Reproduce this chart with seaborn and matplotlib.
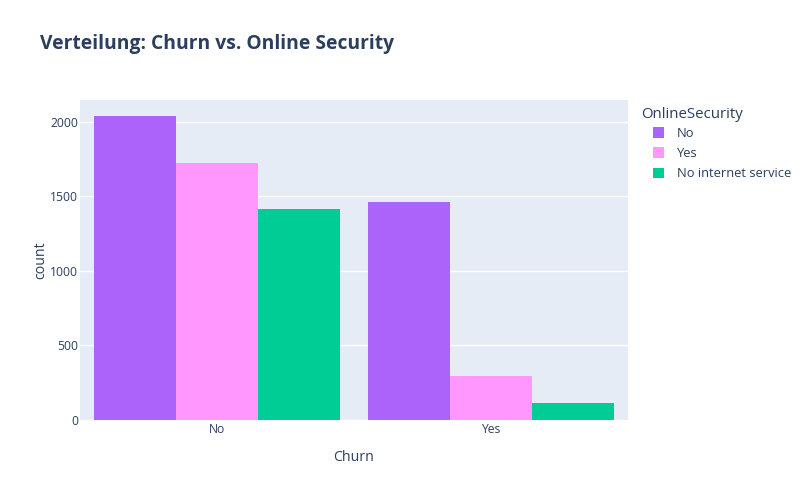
import pandas as pd
import seaborn as sns
import matplotlib.pyplot as plt
from matplotlib.patches import Patch

churn = ["No", "No", "No", "Yes", "Yes", "Yes"]
security = ["No", "Yes", "No internet service", "No", "Yes", "No internet service"]
counts = [2037, 1724, 1413, 1461, 295, 113]
hue_levels = ["No", "Yes", "No internet service"]
colors = ["#AB63FA", "#FF97FF", "#00CC96"]

df = pd.DataFrame({"Churn": churn, "OnlineSecurity": security, "count": counts})

text_col = "#2a3f5f"
sns.set_style("white")
plt.rcParams["font.family"] = ["Open Sans", "DejaVu Sans"]

fig = plt.figure(figsize=(8.11, 5.0), dpi=100)
ax = fig.add_axes([80 / 811, 1 - 420 / 500, 548 / 811, 320 / 500])
ax.set_facecolor("#E5ECF6")

sns.barplot(x="Churn", y="count", hue="OnlineSecurity", data=df,
            hue_order=hue_levels, palette=colors, width=0.9,
            saturation=1, linewidth=0, ax=ax, legend=False)

ax.set_xlim(-0.5, 1.5)
ax.set_ylim(0, 2145)
ax.set_yticks([0, 500, 1000, 1500, 2000])
ax.grid(axis="y", color="white", linewidth=1)
ax.set_axisbelow(True)
for s in ax.spines.values():
    s.set_visible(False)
ax.tick_params(length=0, labelsize=8.7, labelcolor=text_col)
ax.tick_params(axis="x", pad=2)
ax.tick_params(axis="y", pad=1.5)
ax.set_xlabel("Churn", fontsize=10.2, color=text_col, labelpad=10)
ax.set_ylabel("count", fontsize=10.2, color=text_col, labelpad=1)

fig.text(40 / 811, 1 - 44 / 500, "Verteilung: Churn vs. Online Security",
         fontsize=13.9, fontweight="bold", color=text_col, va="center")

# legend title and entries placed like plotly's
fig.text(641 / 811, 1 - 114 / 500, "OnlineSecurity", fontsize=10.8,
         color=text_col, va="center")
handles = [Patch(facecolor=c, edgecolor="none") for c in colors]
leg = fig.legend(handles, hue_levels, loc="upper left",
                 bbox_to_anchor=(653 / 811, 1 - 127 / 500),
                 frameon=False, fontsize=9.3, borderpad=0,
                 handlelength=0.85, handleheight=0.85,
                 handletextpad=1.0, labelspacing=0.55, borderaxespad=0)
for t in leg.get_texts():
    t.set_color(text_col)

fig.savefig("out.png", dpi=100)
